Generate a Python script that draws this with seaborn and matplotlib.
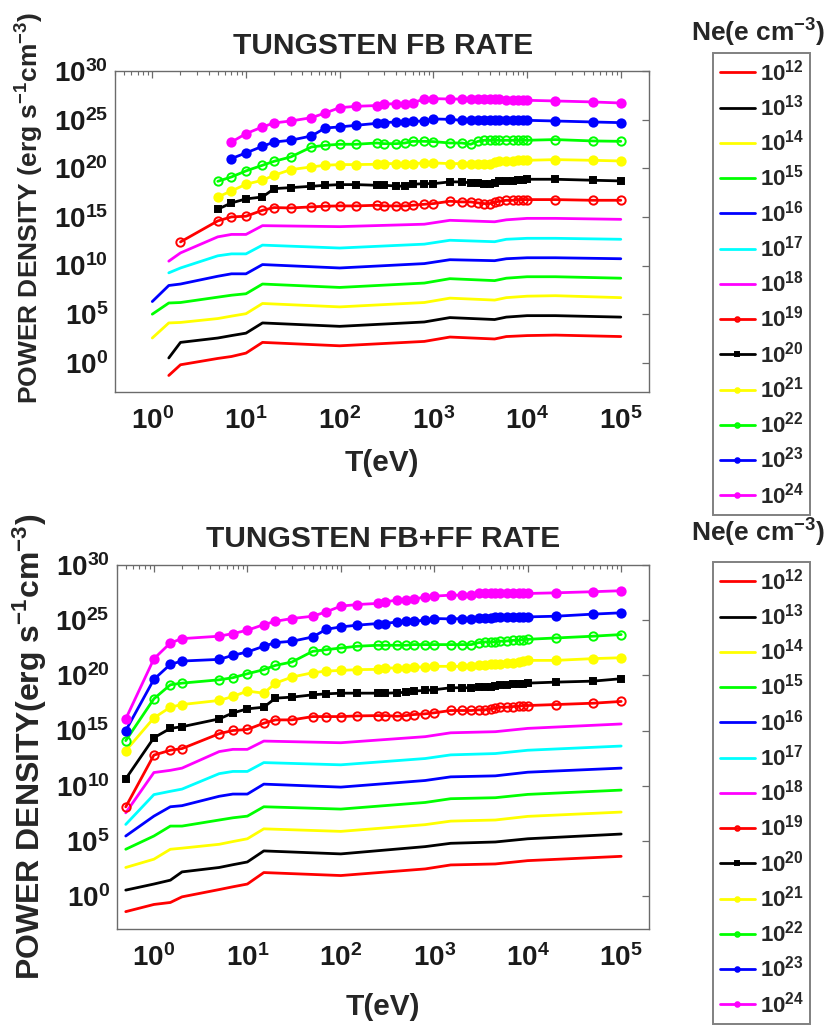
import numpy as np
import matplotlib
matplotlib.use("Agg")
import matplotlib.pyplot as plt
import seaborn as sns
from matplotlib.ticker import LogLocator, NullFormatter, NullLocator

sns.set_style("white")
plt.rcParams["font.family"] = ["Liberation Sans", "DejaVu Sans"]
plt.rcParams["font.weight"] = "bold"
plt.rcParams["mathtext.fontset"] = "custom"
plt.rcParams["mathtext.rm"] = "Liberation Sans:bold"
plt.rcParams["mathtext.bf"] = "Liberation Sans:bold"
plt.rcParams["mathtext.it"] = "Liberation Sans:bold:italic"

# ---------------- data (log10 of power density) ----------------
ne_exp = [12, 13, 14, 15, 16, 17, 18, 19, 20, 21, 22, 23, 24]
colors = ["#ff0000", "#000000", "#ffff00", "#00ff00", "#0000ff", "#00ffff", "#ff00ff",
          "#ff0000", "#000000", "#ffff00", "#00ff00", "#0000ff", "#ff00ff"]
markers = [None, None, None, None, None, None, None, "o", "s", "o", "o", "o", "o"]
filled = [True, True, True, True, True, True, True, False, True, True, False, True, True]

x_ticks = [1, 10, 100, 1000, 10000, 100000]
x_ticklabels = [r"$\mathbf{10^{0}}$", r"$\mathbf{10^{1}}$", r"$\mathbf{10^{2}}$",
                r"$\mathbf{10^{3}}$", r"$\mathbf{10^{4}}$", r"$\mathbf{10^{5}}$"]
y_ticks = [1e0, 1e5, 1e10, 1e15, 1e20, 1e25, 1e30]
y_ticklabels = [r"$\mathbf{10^{0}}$", r"$\mathbf{10^{5}}$", r"$\mathbf{10^{10}}$",
                r"$\mathbf{10^{15}}$", r"$\mathbf{10^{20}}$", r"$\mathbf{10^{25}}$",
                r"$\mathbf{10^{30}}$"]

# ---- FB rate: plain lines ----
T_fb_line = [1, 1.5, 2, 5, 7, 10, 15, 100, 800, 1500, 4500, 6000, 10000, 20000, 100000]
fb12 = [-1.3, -0.2, 0.45, 0.65, 1.0, 2.1, 1.75, 2.2, 2.65, 2.45, 2.7, 2.8, 2.85, 2.7]
fb13 = [0.5, 2.1, 2.55, 2.8, 3.05, 4.1, 3.75, 4.2, 4.65, 4.45, 4.7, 4.85, 4.85, 4.7]
fb14 = [2.55, 4.1, 4.15, 4.55, 4.8, 5.05, 6.1, 5.75, 6.2, 6.65, 6.45, 6.7, 6.85, 6.9, 6.7]
fb15 = [5.0, 6.15, 6.2, 6.75, 6.95, 7.1, 8.1, 7.75, 8.2, 8.65, 8.45, 8.7, 8.85, 8.85, 8.7]
fb16 = [6.3, 7.95, 8.1, 8.9, 9.15, 9.15, 10.1, 9.75, 10.2, 10.6, 10.5, 10.7, 10.8, 10.8, 10.7]
fb17 = [9.25, 9.75, 11.0, 11.2, 11.2, 12.1, 11.8, 12.2, 12.6, 12.45, 12.7, 12.8, 12.8, 12.7]
fb18 = [10.45, 11.3, 12.95, 13.2, 13.2, 14.1, 14.0, 14.25, 14.65, 14.5, 14.7, 14.85, 14.85, 14.75]

# ---- FB rate: marker series ----
T_fb_mark = [2, 5, 7, 10, 15, 20, 30, 50, 70, 100, 150, 250, 300, 400, 500, 600, 800, 1000,
             1500, 2000, 2500, 3000, 3500, 4000, 4500, 5000, 6000, 7000, 8000, 9000, 10000,
             20000, 50000, 100000]
fb19 = [12.43, 14.59, 15.0, 15.07, 15.68, 15.96, 15.92, 16.03, 16.1, 16.13, 16.13, 16.2, 16.13,
        16.13, 16.13, 16.2, 16.3, 16.37, 16.61, 16.54, 16.54, 16.44, 16.37, 16.37, 16.51, 16.61,
        16.71, 16.71, 16.78, 16.78, 16.78, 16.78, 16.71, 16.71]
fb20 = [15.79, 16.44, 16.85, 17.05, 17.91, 18.01, 18.15, 18.25, 18.32, 18.32, 18.25, 18.25, 18.18,
        18.15, 18.36, 18.42, 18.42, 18.6, 18.6, 18.49, 18.49, 18.36, 18.36, 18.49, 18.66, 18.7,
        18.7, 18.77, 18.84, 18.87, 18.87, 18.77, 18.7]
fb21 = [17.05, 17.67, 18.36, 18.77, 19.28, 19.86, 20.14, 20.31, 20.38, 20.38, 20.41, 20.48, 20.48,
        20.48, 20.48, 20.55, 20.55, 20.48, 20.48, 20.48, 20.41, 20.41, 20.48, 20.65, 20.72, 20.75,
        20.78, 20.8, 20.82, 20.82, 20.89, 20.82, 20.75]
fb22 = [18.66, 19.11, 19.73, 20.31, 20.72, 21.16, 22.19, 22.36, 22.47, 22.47, 22.6, 22.53, 22.53,
        22.6, 22.77, 22.77, 22.74, 22.6, 22.6, 22.47, 22.77, 22.88, 22.88, 22.88, 22.88, 22.88,
        22.88, 22.88, 22.88, 22.88, 22.95, 22.81, 22.77]
fb23 = [21.0, 21.58, 22.26, 22.7, 22.88, 23.32, 24.14, 24.25, 24.42, 24.62, 24.7, 24.76, 24.76,
        24.83, 24.86, 25.07, 25.03, 24.93, 24.93, 24.93, 24.93, 24.93, 24.93, 24.93, 24.93, 24.93,
        24.93, 24.93, 24.93, 24.86, 24.76, 24.69]
fb24 = [22.7, 23.56, 24.25, 24.66, 24.86, 25.2, 25.68, 26.23, 26.37, 26.45, 26.6, 26.64, 26.64,
        26.75, 27.1, 27.16, 27.12, 27.12, 27.12, 27.1, 27.1, 27.1, 27.1, 27.1, 27.05, 27.05, 27.02,
        27.0, 26.99, 26.92, 26.82, 26.71]

# ---- FB+FF rate: plain lines ----
T_ff_line = [0.5, 1, 1.5, 2, 5, 7, 10, 15, 100, 800, 1500, 4500, 10000, 100000]
ff12 = [-1.4, -0.75, -0.57, -0.06, 0.6, 0.85, 1.1, 2.14, 1.87, 2.47, 2.83, 2.92, 3.22, 3.61]
ff13 = [0.55, 1.1, 1.45, 2.2, 2.6, 2.85, 3.1, 4.1, 3.83, 4.49, 4.79, 4.91, 5.2, 5.63]
ff14 = [2.6, 3.35, 4.25, 4.35, 4.7, 4.95, 5.2, 6.1, 5.87, 6.48, 6.8, 6.9, 7.23, 7.62]
ff15 = [4.25, 5.45, 6.35, 6.35, 6.9, 7.1, 7.25, 8.1, 7.89, 8.49, 8.83, 8.92, 9.22, 9.61]
ff16 = [5.45, 7.25, 8.1, 8.2, 9.05, 9.25, 9.25, 10.15, 9.88, 10.48, 10.81, 10.9, 11.23, 11.6]
ff17 = [6.5, 9.2, 9.5, 9.7, 11.1, 11.3, 11.3, 12.1, 11.9, 12.47, 12.8, 12.92, 13.22, 13.6]
ff18 = [7.55, 11.2, 11.4, 11.6, 13.1, 13.3, 13.3, 14.05, 13.9, 14.45, 14.8, 14.9, 15.2, 15.6]

# ---- FB+FF rate: marker series ----
T_ff_mark = [0.5, 1, 1.5, 2, 5, 7, 10, 15, 20, 30, 50, 70, 100, 150, 250, 300, 400, 500, 600,
             800, 1000, 1500, 2000, 2500, 3000, 3500, 4000, 4500, 5000, 6000, 7000, 8000, 9000,
             10000, 20000, 50000, 100000]
ff19 = [8.09, 12.78, 13.22, 13.37, 14.72, 15.01, 15.1, 15.67, 15.97, 15.97, 16.27, 16.27, 16.27,
        16.33, 16.36, 16.36, 16.3, 16.36, 16.45, 16.52, 16.61, 16.82, 16.82, 16.82, 16.88, 16.88,
        16.97, 17.03, 17.12, 17.12, 17.18, 17.21, 17.27, 17.27, 17.36, 17.48, 17.64]
ff20 = [10.63, 14.35, 15.2, 15.35, 16.06, 16.6, 16.97, 17.12, 17.94, 18.03, 18.24, 18.33, 18.39,
        18.39, 18.39, 18.39, 18.42, 18.48, 18.58, 18.64, 18.7, 18.88, 18.88, 18.88, 18.94, 18.94,
        18.94, 19.03, 19.09, 19.15, 19.18, 19.18, 19.24, 19.3, 19.39, 19.48, 19.7]
ff21 = [13.18, 16.15, 17.12, 17.36, 17.73, 18.09, 18.58, 18.39, 19.3, 19.85, 20.24, 20.39, 20.45,
        20.52, 20.55, 20.67, 20.67, 20.67, 20.76, 20.76, 20.82, 20.82, 20.82, 20.88, 20.91, 20.97,
        21.0, 21.06, 21.06, 21.12, 21.15, 21.21, 21.3, 21.36, 21.36, 21.52, 21.6]
ff22 = [14.09, 17.88, 19.15, 19.3, 19.6, 19.79, 20.15, 20.52, 20.91, 21.21, 22.18, 22.33, 22.48,
        22.64, 22.73, 22.73, 22.73, 22.73, 22.79, 22.79, 22.79, 22.79, 22.79, 22.79, 22.97, 23.03,
        23.03, 23.03, 23.09, 23.12, 23.18, 23.18, 23.24, 23.27, 23.39, 23.55, 23.7]
ff23 = [15.0, 19.64, 21.0, 21.3, 21.45, 21.82, 22.12, 22.64, 22.97, 23.09, 23.48, 24.18, 24.39,
        24.55, 24.7, 24.7, 24.85, 24.91, 24.91, 25.0, 25.15, 25.12, 25.15, 25.15, 25.21, 25.22,
        25.24, 25.25, 25.26, 25.27, 25.28, 25.29, 25.3, 25.3, 25.36, 25.55, 25.67]
ff24 = [16.06, 21.5, 22.94, 23.33, 23.55, 23.79, 24.09, 24.6, 24.9, 25.15, 25.36, 25.76, 26.27,
        26.42, 26.52, 26.67, 26.82, 26.82, 26.88, 27.12, 27.18, 27.27, 27.27, 27.27, 27.42, 27.42,
        27.42, 27.42, 27.42, 27.42, 27.42, 27.42, 27.42, 27.42, 27.48, 27.58, 27.67]

fb_series = [fb12, fb13, fb14, fb15, fb16, fb17, fb18, fb19, fb20, fb21, fb22, fb23, fb24]
ff_series = [ff12, ff13, ff14, ff15, ff16, ff17, ff18, ff19, ff20, ff21, ff22, ff23, ff24]


def series_T(i, vals, T_line, T_mark):
    """T values matching a series: series that start later use the tail of the grid."""
    grid = T_line if i < 7 else T_mark
    return grid[len(grid) - len(vals):]


# ---------------- figure ----------------
W, H = 828, 1027
fig = plt.figure(figsize=(W / 100, H / 100), dpi=100)
axc = "#6b6b6b"


def px_axes(left, top, right, bottom):
    return fig.add_axes([left / W, 1 - bottom / H, (right - left) / W, (bottom - top) / H])


ax1 = px_axes(115, 71, 649, 392)
ax2 = px_axes(116.7, 565, 649.3, 929.3)

for ax, series, T_line, T_mark in [(ax1, fb_series, T_fb_line, T_fb_mark),
                                   (ax2, ff_series, T_ff_line, T_ff_mark)]:
    for i, vals in enumerate(series):
        T = series_T(i, vals, T_line, T_mark)
        y = np.power(10.0, np.array(vals))
        kw = dict(color=colors[i], linewidth=2.0)
        if markers[i] is not None:
            kw.update(marker=markers[i],
                      markersize=6.0 if markers[i] == "o" else 5.0,
                      markeredgecolor=colors[i],
                      markerfacecolor=colors[i] if filled[i] else "none",
                      markeredgewidth=1.4)
        sns.lineplot(x=T, y=y, ax=ax, label=rf"$\mathbf{{10^{{{ne_exp[i]}}}}}$",
                     legend=False, sort=False, **kw)

    ax.set_xscale("log")
    ax.set_yscale("log")
    ax.set_xlim(0.4, 2e5)
    ax.set_ylim(1e-3, 1e30)
    ax.set_xticks(x_ticks)
    ax.set_xticklabels(x_ticklabels)
    ax.xaxis.set_minor_locator(LogLocator(base=10, subs=np.arange(2, 10), numticks=30))
    ax.xaxis.set_minor_formatter(NullFormatter())
    ax.set_yticks(y_ticks)
    ax.set_yticklabels(y_ticklabels)
    ax.yaxis.set_minor_locator(NullLocator())
    ax.tick_params(axis="both", which="both", direction="in", top=True, right=True,
                   color=axc, labelcolor="#1a1a1a")
    ax.tick_params(axis="both", which="major", length=5, width=0.9, labelsize=20)
    ax.tick_params(axis="x", which="major", pad=11)
    ax.tick_params(axis="y", which="major", pad=5)
    ax.tick_params(axis="x", which="minor", length=3, width=0.8)
    for s in ax.spines.values():
        s.set_color(axc)
        s.set_linewidth(1.0)
    ax.set_xlabel("")
    ax.set_ylabel("")

# titles and axis labels
fig.text(383 / W, 1 - 46 / H, "TUNGSTEN FB RATE", ha="center", va="center",
         fontsize=21.5, fontweight="bold")
fig.text(383 / W, 1 - 539 / H, "TUNGSTEN FB+FF RATE", ha="center", va="center",
         fontsize=21.5, fontweight="bold")
fig.text(382 / W, 1 - 463 / H, "T(eV)", ha="center", va="center", fontsize=21.5,
         fontweight="bold")
fig.text(383 / W, 1 - 1007 / H, "T(eV)", ha="center", va="center", fontsize=21.5,
         fontweight="bold")
fig.text(30 / W, 1 - 208 / H, r"POWER DENSITY (erg s$^{\mathbf{-1}}$cm$^{\mathbf{-3}}$)",
         rotation=90, ha="center", va="center", fontsize=19, fontweight="bold")
fig.text(30 / W, 1 - 747 / H, r"POWER DENSITY(erg s$^{\mathbf{-1}}$cm$^{\mathbf{-3}}$)",
         rotation=90, ha="center", va="center", fontsize=23, fontweight="bold")

# legends
for ax, top, title_y in [(ax1, 52.7, 33), (ax2, 561.7, 533)]:
    handles, labels = ax.get_legend_handles_labels()
    leg = fig.legend(handles, labels, loc="upper left",
                     bbox_to_anchor=(713 / W, 1 - top / H), bbox_transform=fig.transFigure,
                     borderaxespad=0, fontsize=16, handlelength=1.6, handletextpad=0.2,
                     borderpad=0.3, labelspacing=0.42, markerscale=0.55,
                     fancybox=False, framealpha=1, edgecolor="#808080")
    leg.get_frame().set_linewidth(1.4)
    fig.text(758 / W, 1 - title_y / H, r"Ne(e cm$^{\mathbf{-3}}$)", ha="center", va="center",
             fontsize=19, fontweight="bold")

fig.savefig("out.png", dpi=100)
